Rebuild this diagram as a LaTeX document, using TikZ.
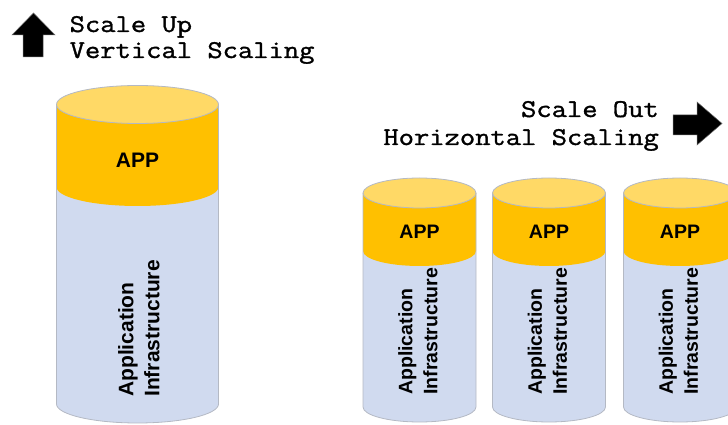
\documentclass[tikz,border=0pt]{standalone}
\usepackage{fontspec}
\setmainfont{Liberation Sans}
\newfontfamily\capfont{Latin Modern Mono}[FakeStretch=1.165,FakeBold=1.3]
\definecolor{infracol}{HTML}{D0DAEF}
\definecolor{appcol}{HTML}{FFC000}
\definecolor{lidcol}{HTML}{FFD966}
\definecolor{rimcol}{HTML}{B4B9C4}
\tikzset{
  infra/.style={fill=infracol},
  appband/.style={fill=appcol},
  lid/.style={fill=lidcol,draw=rimcol,line width=0.8pt},
  rim/.style={draw=rimcol,line width=0.8pt},
  biglabel/.style={font=\bfseries\fontsize{21}{26}\selectfont,inner sep=0pt},
  smalllabel/.style={font=\bfseries\fontsize{19.5}{25}\selectfont,inner sep=0pt},
  caption/.style={font=\capfont\fontsize{25.5}{26}\selectfont,inner sep=0pt},
  blockarrow/.style={fill=black,draw=black!60,line width=0.5pt,line join=miter}
}
% #1 centre x, #2 x radius, #3 y radius, #4 lid y, #5 band bottom y, #6 base y
\newcommand\drawcylinder[6]{%
  \fill[infra] (#1-#2,#4) -- (#1-#2,#6)
    arc[start angle=180,end angle=360,x radius=#2pt,y radius=#3pt] -- (#1+#2,#4) -- cycle;
  \fill[appband] (#1-#2,#4) -- (#1-#2,#5)
    arc[start angle=180,end angle=360,x radius=#2pt,y radius=#3pt] -- (#1+#2,#4) -- cycle;
  \draw[rim] (#1-#2,#4) -- (#1-#2,#6)
    arc[start angle=180,end angle=360,x radius=#2pt,y radius=#3pt] -- (#1+#2,#4);
  \draw[lid] (#1,#4) ellipse[x radius=#2pt,y radius=#3pt];
}
\begin{document}
\begin{tikzpicture}[x=1pt,y=1pt]
\useasboundingbox (0,0) rectangle (728,425);
\begin{scope}
\clip (0,0) rectangle (728,425);

% vertical scaling: one large server
\drawcylinder{137.5}{81}{19}{320.5}{238}{21}
\node[biglabel] (bigapp) at (137.5,265) {APP};
\node[biglabel,rotate=90,anchor=north west,align=left] (biginfra) at (118,28)
  {Application\\Infrastructure};

% horizontal scaling: several smaller servers
\foreach \cx/\nm in {419.5/one,549/two,680/three}{
  \drawcylinder{\cx}{56.5}{15}{232}{174}{18}
  \node[smalllabel] (app\nm) at (\cx,193) {APP};
  \node[smalllabel,rotate=90,anchor=north west,align=left] (infra\nm) at (\cx-21.5,30)
    {Application\\Infrastructure};
}
\end{scope}

% captions and direction arrows
\draw[blockarrow] (12,390) -- (33.5,412) -- (55,390) -- (43,390) -- (43,368)
  -- (23,368) -- (23,390) -- cycle;
\node[caption,anchor=base west,align=left] (upcap) at (69.5,367)
  {Scale Up\\Vertical Scaling};

\draw[blockarrow] (673,310) -- (697,310) -- (697,323) -- (722,301.5) -- (697,280)
  -- (697,290) -- (673,290) -- cycle;
\node[caption,anchor=base east,align=right,font=\capfont\fontsize{25.5}{28}\selectfont]
  (outcap) at (659,280) {Scale Out\\Horizontal Scaling};
\end{tikzpicture}
\end{document}
